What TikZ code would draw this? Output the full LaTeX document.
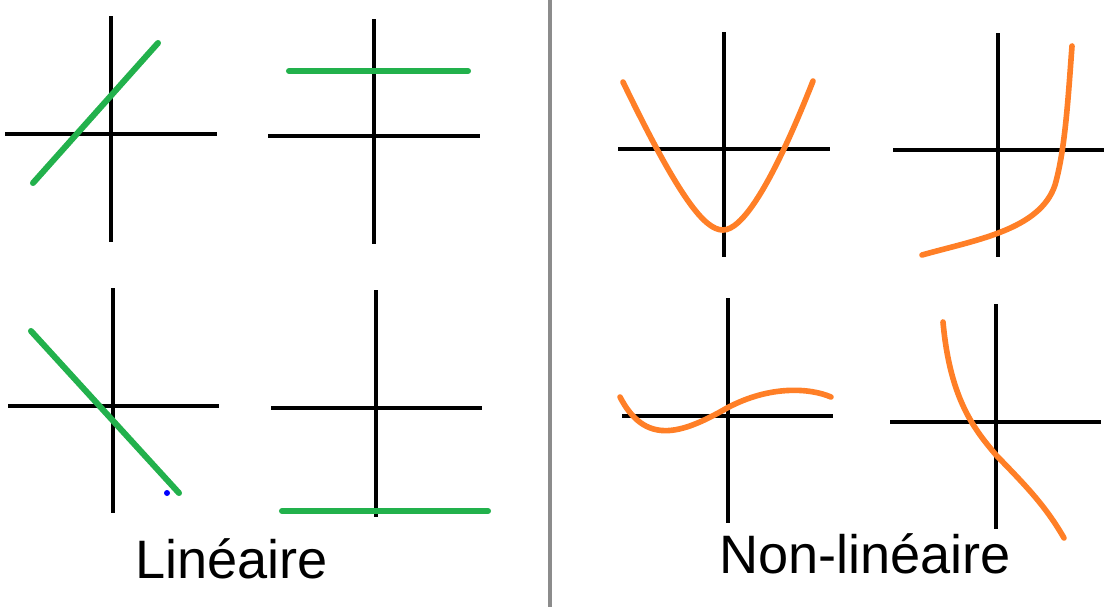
\documentclass[tikz,border=0pt]{standalone}
\usepackage{fontspec}
\setmainfont{Liberation Sans}
\definecolor{axiscol}{RGB}{0,0,0}
\definecolor{lincol}{RGB}{34,177,76}
\definecolor{curvecol}{RGB}{255,127,39}
\definecolor{sepcol}{RGB}{140,140,140}
\definecolor{dotcol}{RGB}{0,0,255}
\newcommand{\axescross}[6]{%
  \draw[axis] (#1,#2) -- (#1,#3);
  \draw[axis] (#5,#4) -- (#6,#4);}

\begin{document}
\begin{tikzpicture}[
  x=0.025cm, y=-0.025cm,
  axis/.style={draw=axiscol, line width=2.5pt},
  linplot/.style={draw=lincol, line width=4.3pt, line cap=round},
  curveplot/.style={draw=curvecol, line width=4pt, line cap=round},
  caption/.style={font=\fontsize{38.5}{40}\selectfont, inner sep=0pt, anchor=base west},
]
\useasboundingbox (0,0) rectangle (1104,607);

% ---- Separator ----
\draw[sepcol, line width=2.9pt] (550,0) -- (550,607);

% ---- Axes: vertical x, top, bottom; horizontal y, left, right ----
\axescross{111}{16}{242}{134}{5}{217}
\axescross{374}{19}{244}{136}{268}{480}
\axescross{113}{288}{513}{406}{8}{219}
\axescross{376}{290}{517}{408}{271}{482}
\axescross{724}{32}{257}{149}{618}{830}
\axescross{998}{33}{257}{150}{893}{1104}
\axescross{728}{298}{523}{416}{622}{833}
\axescross{996}{304}{529}{422}{890}{1101}

% ---- Linear graphs ----
\draw[linplot] (33,183) -- (158,43);
\draw[linplot] (289,71) -- (468,71);
\draw[linplot] (31,331) -- (179,493);
\draw[linplot] (282,511) -- (488,511);
\fill[dotcol] (167,493) circle (3);

% ---- Non-linear graphs ----
\draw[curveplot] (623,82) .. controls (680,200) and (705,230) .. (723,230)
  .. controls (741,230) and (770,190) .. (813,81);
\draw[curveplot] (922,255) .. controls (975,240) and (1040,230) .. (1055,185)
  .. controls (1065,150) and (1068,100) .. (1072,46);
\draw[curveplot] (620,397) .. controls (645,445) and (680,435) .. (727,408)
  .. controls (770,385) and (810,388) .. (831,397);
\draw[curveplot] (943,322) .. controls (950,400) and (975,430) .. (996,455)
  .. controls (1025,485) and (1045,505) .. (1064,538);

% ---- Captions ----
\node[caption] (linlabel) at (135,578) {Linéaire};
\node[caption] (nonlinlabel) at (719,573) {Non-linéaire};
\end{tikzpicture}
\end{document}
